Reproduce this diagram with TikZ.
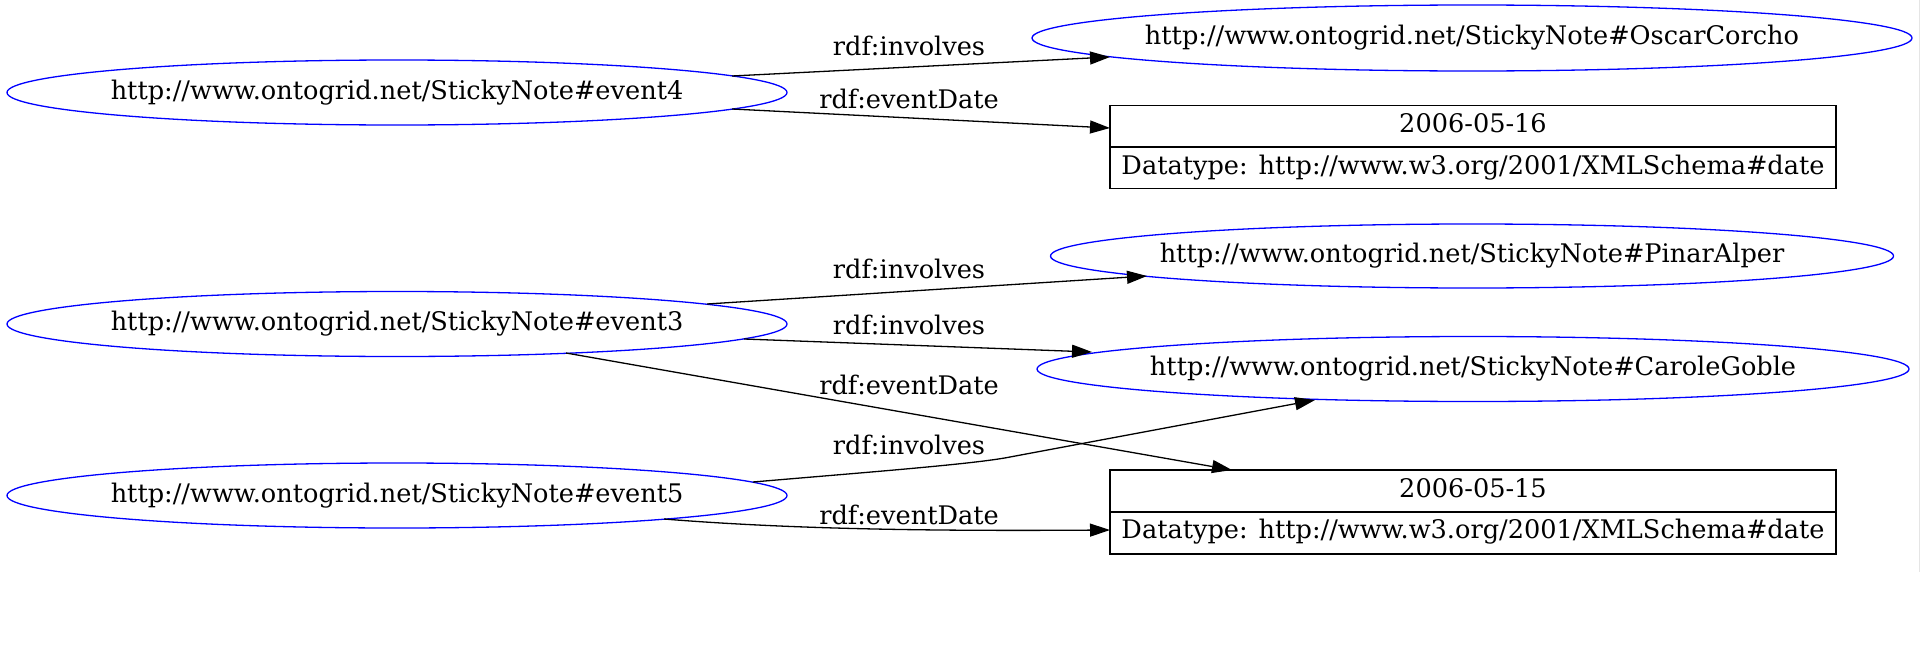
\documentclass[tikz,border=0pt]{standalone}
\usepackage{fontspec}
\setmainfont{DejaVu Serif}
\usetikzlibrary{shapes.geometric,arrows.meta}
\begin{document}
\begin{tikzpicture}[x=0.5pt,y=-0.5pt,
  font=\fontsize{12.8pt}{15pt}\selectfont,
  res/.style={ellipse, draw=blue, line width=0.65pt, inner sep=0pt, text height=6.8pt, text depth=0pt},
  lbl/.style={anchor=base, inner sep=0pt},
  cell/.style={anchor=base, inner sep=0pt},
  edge/.style={draw, line width=0.65pt, -{Triangle[length=10pt,width=6.5pt]}},
  litbox/.style={rectangle, draw, line width=0.65pt, inner sep=0pt, minimum width=363pt}
]
\useasboundingbox (0,0) rectangle (1920,648);
\draw[gray!20, line width=0.5pt] (1919,0) -- (1919,572);

% resource nodes
\node[res, minimum width=390pt, minimum height=32.5pt] (e4) at (397,92.5) {\makebox[0pt]{http://www.ontogrid.net/StickyNote\#event4}};
\node[res, minimum width=390pt, minimum height=32.5pt] (e3) at (397,324) {\makebox[0pt]{http://www.ontogrid.net/StickyNote\#event3}};
\node[res, minimum width=390pt, minimum height=32.5pt] (e5) at (397,495.5) {\makebox[0pt]{http://www.ontogrid.net/StickyNote\#event5}};
\node[res, minimum width=440pt, minimum height=33pt] (oscar) at (1472,38) {\makebox[0pt]{http://www.ontogrid.net/StickyNote\#OscarCorcho}};
\node[res, minimum width=421.5pt, minimum height=32pt] (pinar) at (1472,256) {\makebox[0pt]{http://www.ontogrid.net/StickyNote\#PinarAlper}};
\node[res, minimum width=436pt, minimum height=32.5pt] (carole) at (1473,369) {\makebox[0pt]{http://www.ontogrid.net/StickyNote\#CaroleGoble}};

% literal boxes
\node[litbox, minimum height=41.5pt] (d16) at (1473,147) {};
\draw[line width=0.65pt] (d16.west) -- (d16.east);
\node[cell] (d16v) at (1473,132.8) {2006-05-16};
\node[cell] (d16t) at (1473,174) {Datatype: http://www.w3.org/2001/XMLSchema\#date};

\node[litbox, minimum height=42pt] (d15) at (1473,512) {};
\draw[line width=0.65pt] (d15.west) -- (d15.east);
\node[cell] (d15v) at (1473,497.5) {2006-05-15};
\node[cell] (d15t) at (1473,538.5) {Datatype: http://www.w3.org/2001/XMLSchema\#date};

% edges
\draw[edge] ([shift={(335,-16.5)}]e4.center) -- ([shift={(-362,19)}]oscar.center);
\draw[edge] ([shift={(335,16.5)}]e4.center) -- ([shift={(-363,-19)}]d16.center);
\draw[edge] ([shift={(310,-20)}]e3.center) -- ([shift={(-325,20)}]pinar.center);
\draw[edge] ([shift={(347,15)}]e3.center) -- ([shift={(-381,-17)}]carole.center);
\draw[edge] ([shift={(169,29)}]e3.center) -- ([shift={(-241,-42)}]d15.center);
\draw[edge] ([shift={(356,-13.5)}]e5.center) .. controls (870,472) and (975,464) .. (1010,457) -- ([shift={(-158,31)}]carole.center);
\draw[edge] ([shift={(267,23.5)}]e5.center) .. controls (800,530) and (950,531) .. ([shift={(-363,18)}]d15.center);

% edge labels
\node[lbl] (l1) at (909,55) {rdf:involves};
\node[lbl] (l2) at (909,108) {rdf:eventDate};
\node[lbl] (l3) at (909,278) {rdf:involves};
\node[lbl] (l4) at (909,334) {rdf:involves};
\node[lbl] (l5) at (909,394) {rdf:eventDate};
\node[lbl] (l6) at (909,454) {rdf:involves};
\node[lbl] (l7) at (909,524) {rdf:eventDate};
\end{tikzpicture}
\end{document}
